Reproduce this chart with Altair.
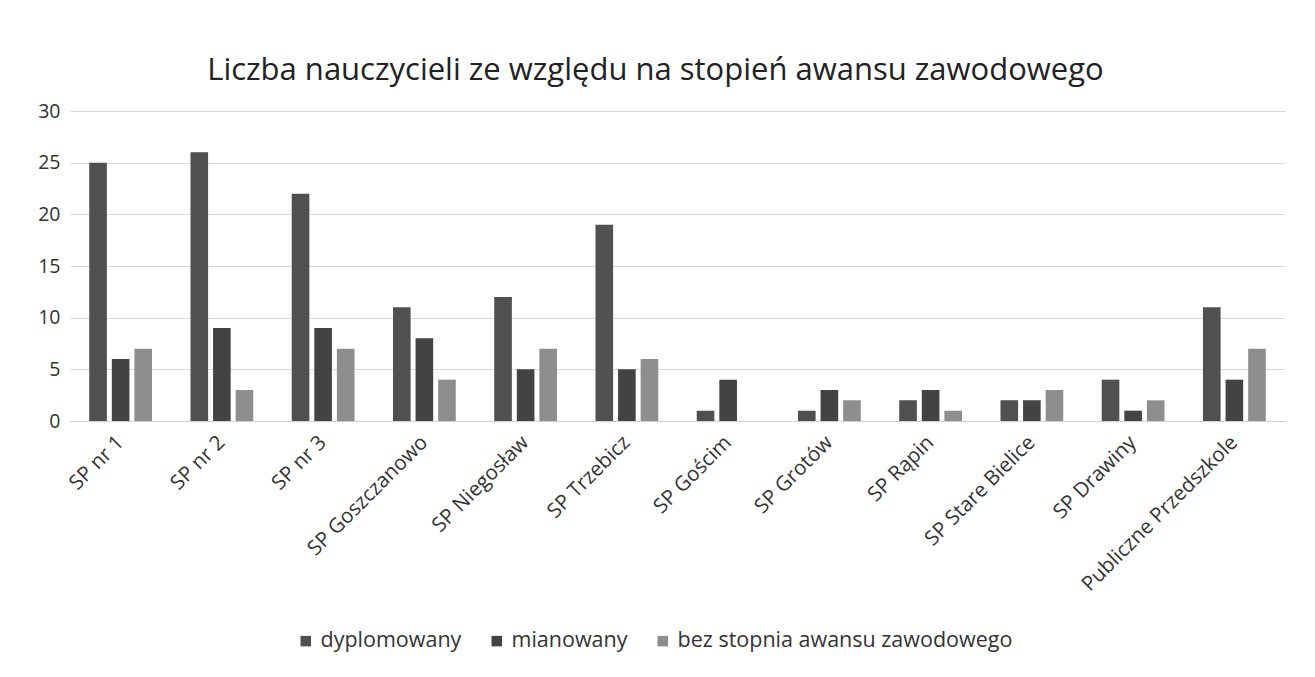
import altair as alt
import pandas as pd

schools = ["SP nr 1", "SP nr 2", "SP nr 3", "SP Goszczanowo", "SP Niegosław",
           "SP Trzebicz", "SP Gościm", "SP Grotów", "SP Rąpin", "SP Stare Bielice",
           "SP Drawiny", "Publiczne Przedszkole"]
series = ["dyplomowany", "mianowany", "bez stopnia awansu zawodowego"]
dyplomowany = [25, 26, 22, 11, 12, 19, 1, 1, 2, 2, 4, 11]
mianowany = [6, 9, 9, 8, 5, 5, 4, 3, 3, 2, 1, 4]
bez_stopnia = [7, 3, 7, 4, 7, 6, 0, 2, 1, 3, 2, 7]
colors = ["#505050", "#434343", "#8e8e8e"]
y_ticks = [0, 5, 10, 15, 20, 25, 30]

rows = []
for s, vals in zip(series, [dyplomowany, mianowany, bez_stopnia]):
    for sc, v in zip(schools, vals):
        rows.append({"szkola": sc, "stopien": s, "liczba": v})
df = pd.DataFrame(rows)

FONT = "Open Sans"

chart = alt.Chart(df).mark_bar().encode(
    x=alt.X("szkola:N", sort=schools, title=None,
            scale=alt.Scale(paddingInner=0.38, paddingOuter=0.19),
            axis=alt.Axis(labelAngle=-45, labelAlign="right", labelBaseline="middle",
                          labelFontSize=20.5, labelColor="#333333", labelFont=FONT,
                          ticks=False, domain=True, domainColor="#d0d0d0",
                          labelPadding=18, labelLimit=400)),
    xOffset=alt.XOffset("stopien:N", sort=series,
                        scale=alt.Scale(paddingInner=0.22, paddingOuter=0)),
    y=alt.Y("liczba:Q", title=None,
            scale=alt.Scale(domain=[0, 30], nice=False),
            axis=alt.Axis(values=y_ticks, labelFontSize=19.5, labelColor="#333333",
                          labelFont=FONT, ticks=False, domain=False,
                          gridColor="#d9d9d9", gridWidth=1, labelPadding=10)),
    color=alt.Color("stopien:N", sort=series,
                    scale=alt.Scale(domain=series, range=colors),
                    legend=alt.Legend(title=None, orient="none", direction="horizontal",
                                      legendX=225, legendY=519,
                                      symbolType="square", symbolSize=110,
                                      symbolStrokeWidth=0,
                                      labelFontSize=21.5, labelFont=FONT,
                                      labelColor="#333333", columnPadding=24,
                                      labelLimit=500)),
).properties(
    width=1215,
    height=310,
    padding={"left": 62, "top": 103, "right": 22, "bottom": 250},
    autosize=alt.AutoSizeParams(type="none"),
    title=alt.TitleParams("Liczba nauczycieli ze względu na stopień awansu zawodowego",
                          fontSize=31, font=FONT, fontWeight="normal",
                          color="#222222", offset=14, dx=-22),
).configure_view(stroke=None)

chart.save("out.html", embed_options={"renderer": "svg", "actions": False})
